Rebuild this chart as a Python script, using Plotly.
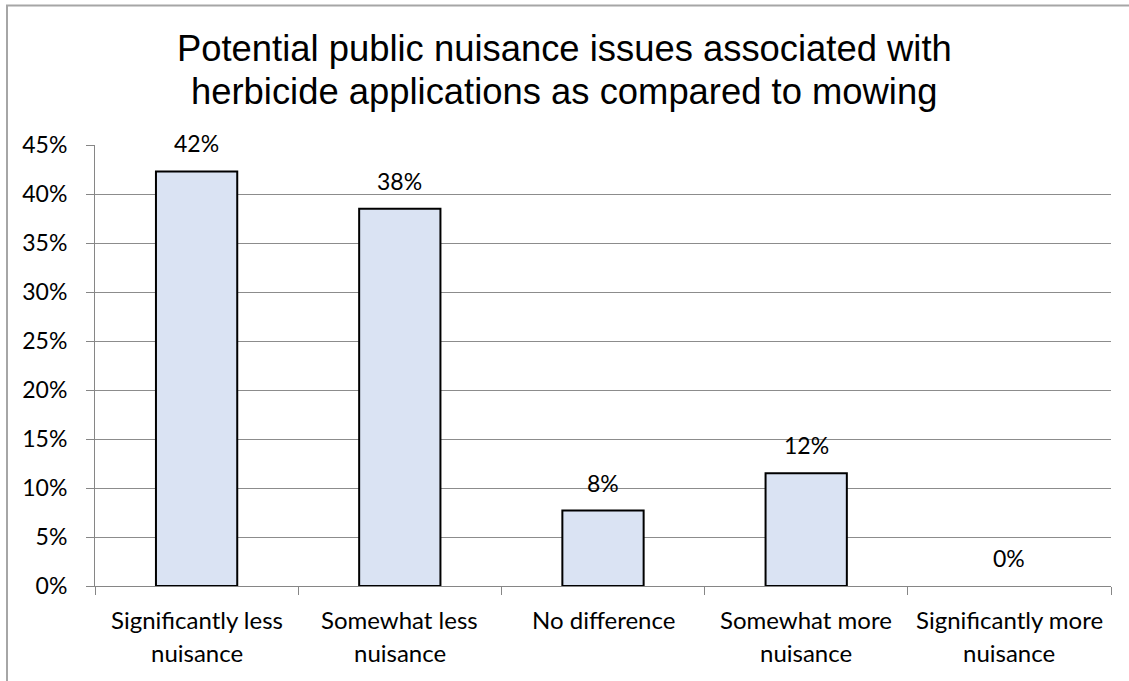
import plotly.graph_objects as go

categories = ["Significantly less<br>nuisance", "Somewhat less<br>nuisance", "No difference",
              "Somewhat more<br>nuisance", "Significantly more<br>nuisance"]
values = [0.423, 0.385, 0.077, 0.115, 0.0]
labels = ["42%", "38%", "8%", "12%", "0%"]
y_ticks = [0, 0.05, 0.10, 0.15, 0.20, 0.25, 0.30, 0.35, 0.40, 0.45]
y_tick_text = ["0%", "5%", "10%", "15%", "20%", "25%", "30%", "35%", "40%", "45%"]
title_lines = ["Potential public nuisance issues associated with",
               "herbicide applications as compared to mowing"]

W, H = 1129, 681
L, R, T, B = 95, 18, 145, 95
pw, ph = W - L - R, H - T - B
FONT = "Lato, Carlito, sans-serif"

fig = go.Figure()
fig.add_trace(go.Bar(
    x=categories, y=values, width=0.4,
    marker=dict(color="#DAE3F3",
                line=dict(color="#000000", width=[2 if v > 0 else 0 for v in values])),
    hoverinfo="skip",
))

for c, v, t in zip(categories, values, labels):
    fig.add_annotation(x=c, y=v, text=t, showarrow=False, yshift=28,
                       font=dict(family=FONT, size=23, color="#000"))

# category labels, one annotation per line for Excel-like line spacing
for c in categories:
    for i, line in enumerate(c.split("<br>")):
        fig.add_annotation(x=c, y=0, text=line, showarrow=False, yshift=-33 - 33 * i,
                           font=dict(family=FONT, size=24, color="#000"))

# title, two lines
for i, (line, yc) in enumerate(zip(title_lines, [49, 91])):
    fig.add_annotation(xref="paper", yref="paper", x=(564 - L) / pw, y=((H - B) - yc) / ph,
                       text=line, showarrow=False, xanchor="center", yanchor="middle",
                       font=dict(family="Liberation Sans, Arial, sans-serif", size=36.4, color="#000"))

# outer chart border (left and top visible)
fig.add_shape(type="rect", xref="paper", yref="paper",
              x0=(7 - L) / pw, x1=(W + 10 - L) / pw,
              y0=-(B + 10) / ph, y1=((H - B) - 5.5) / ph,
              line=dict(color="#A6A6A6", width=2), fillcolor="rgba(0,0,0,0)", layer="below")

fig.update_layout(
    width=W, height=H,
    margin=dict(l=L, r=R, t=T, b=B, pad=0),
    paper_bgcolor="white", plot_bgcolor="white",
    showlegend=False,
    font=dict(family=FONT, size=23, color="#000"),
)
fig.update_xaxes(
    showgrid=False, showline=True, linecolor="#868686", linewidth=1,
    ticks="outside", tickson="boundaries", ticklen=8, tickcolor="#868686",
    showticklabels=False, fixedrange=True,
)
fig.update_yaxes(
    range=[0, 0.45], tickvals=y_ticks, ticktext=y_tick_text,
    showgrid=True, gridcolor="#8C8C8C", gridwidth=1,
    showline=True, linecolor="#868686", linewidth=1,
    ticks="outside", ticklen=8, tickcolor="#868686", ticklabelstandoff=14,
    tickfont=dict(family=FONT, size=23, color="#000"),
    zeroline=False, fixedrange=True,
)

fig.write_html("out.html", config={"displayModeBar": False},
               post_script="document.body.style.margin='0';")
